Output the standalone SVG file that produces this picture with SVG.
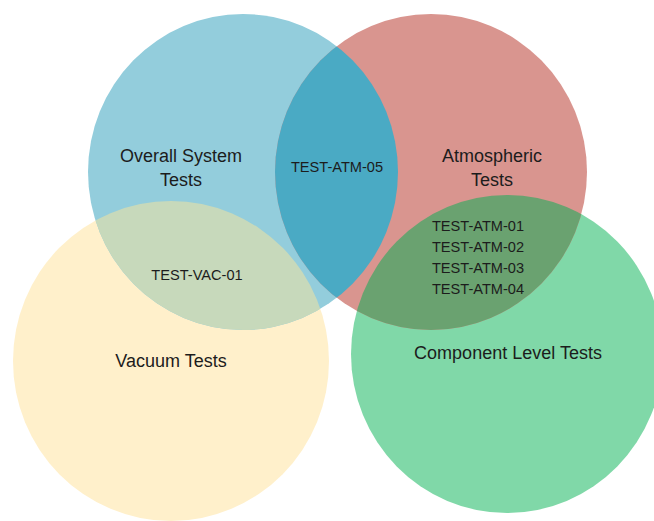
<svg xmlns="http://www.w3.org/2000/svg" width="654" height="521" viewBox="0 0 654 521">
<style>
text{font-family:"Liberation Sans",Arial,sans-serif;fill:#1c1c1c;text-anchor:middle}
.big{font-size:18px}
.small{font-size:14.6px}
</style>
<defs>
<ellipse id="eBlue" cx="243" cy="172" rx="155" ry="158"/>
<ellipse id="eRed" cx="431" cy="172" rx="156" ry="158"/>
<ellipse id="eYellow" cx="171" cy="361" rx="158" ry="160"/>
<ellipse id="eGreen" cx="507" cy="354" rx="156" ry="159"/>
<clipPath id="cBlue"><use href="#eBlue"/></clipPath>
<clipPath id="cRed"><use href="#eRed"/></clipPath>
</defs>
<rect width="654" height="521" fill="#ffffff"/>
<g id="vacuum"><use href="#eYellow" fill="#FFF0CB"/></g>
<g id="component"><use href="#eGreen" fill="#80D8A8"/></g>
<g id="overall"><use href="#eBlue" fill="#93CDDC"/></g>
<g id="atmospheric"><use href="#eRed" fill="#D9958F"/></g>
<g id="overlaps">
<use href="#eRed" fill="#4AAAC4" clip-path="url(#cBlue)"/>
<use href="#eYellow" fill="#C7D9BB" clip-path="url(#cBlue)"/>
<use href="#eGreen" fill="#6AA270" clip-path="url(#cRed)"/>
</g>
<g id="labels">
<text class="big" x="181" y="162">Overall System</text>
<text class="big" x="181" y="186">Tests</text>
<text class="big" x="492" y="162">Atmospheric</text>
<text class="big" x="492" y="186">Tests</text>
<text class="big" x="171" y="367">Vacuum Tests</text>
<text class="big" x="508" y="359">Component Level Tests</text>
<text class="small" x="337" y="172">TEST-ATM-05</text>
<text class="small" x="197" y="280">TEST-VAC-01</text>
<text class="small" x="478" y="231">TEST-ATM-01</text>
<text class="small" x="478" y="252">TEST-ATM-02</text>
<text class="small" x="478" y="273">TEST-ATM-03</text>
<text class="small" x="478" y="294">TEST-ATM-04</text>
</g>
</svg>
